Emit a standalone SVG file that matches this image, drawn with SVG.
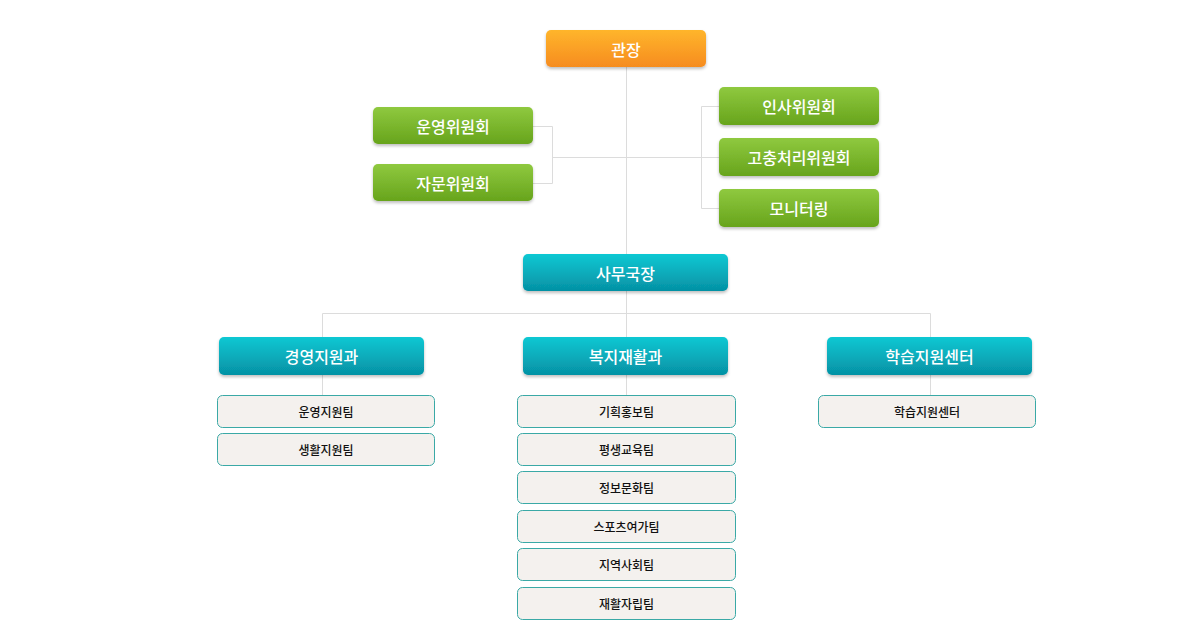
<svg xmlns="http://www.w3.org/2000/svg" width="1200" height="642" viewBox="0 0 1200 642">
<style>
.bx{filter:url(#sh)}
.t{font-family:"Noto Sans CJK KR","Noto Sans",sans-serif;font-size:16px;font-weight:500;fill:#fff;text-anchor:middle;dominant-baseline:central}
.s{font-family:"Noto Sans CJK KR","Noto Sans",sans-serif;font-size:12px;font-weight:500;fill:#111;text-anchor:middle;dominant-baseline:central}
.sub{fill:#f4f1ee;stroke:#3aa9a6;stroke-width:1}
.ln{stroke:#dcdcdc;stroke-width:1;fill:none}
</style>
<defs>
<linearGradient id="go" x1="0" y1="0" x2="0" y2="1"><stop offset="0" stop-color="#ffb52c"/><stop offset="1" stop-color="#f68c1f"/></linearGradient>
<linearGradient id="gg" x1="0" y1="0" x2="0" y2="1"><stop offset="0" stop-color="#8fc93f"/><stop offset="1" stop-color="#67a41c"/></linearGradient>
<linearGradient id="gt" x1="0" y1="0" x2="0" y2="1"><stop offset="0" stop-color="#0ec8d3"/><stop offset="1" stop-color="#0591a4"/></linearGradient>
<filter id="sh" x="-10%" y="-20%" width="120%" height="150%"><feDropShadow dx="0" dy="2" stdDeviation="1.5" flood-color="#000" flood-opacity="0.25"/></filter>
</defs>
<rect width="1200" height="642" fill="#fff"/>
<g id="connectors">
<path class="ln" d="M626.5 67V254M626.5 291V337M626.5 375V395"/>
<path class="ln" d="M533 126.5H552.5V183.5H533M552.5 157.5H626.5"/>
<path class="ln" d="M719 106.5H701.5V208.5H719M701.5 157.5H719M626.5 157.5H701.5"/>
<path class="ln" d="M322.5 337V313.5H930.5V337"/>
<path class="ln" d="M322.5 375V395M930.5 375V395"/>
</g>
<g id="n-director"><rect class="bx" x="546" y="30" width="160" height="37" rx="5" fill="url(#go)"/><text class="t" x="626" y="48.5">관장</text></g>
<g id="n-unyeong"><rect class="bx" x="373" y="107" width="160" height="37" rx="5" fill="url(#gg)"/><text class="t" x="453" y="125.5">운영위원회</text></g>
<g id="n-jamun"><rect class="bx" x="373" y="164" width="160" height="37" rx="5" fill="url(#gg)"/><text class="t" x="453" y="182.5">자문위원회</text></g>
<g id="n-insa"><rect class="bx" x="719" y="87" width="160" height="38" rx="5" fill="url(#gg)"/><text class="t" x="799" y="106">인사위원회</text></g>
<g id="n-gochung"><rect class="bx" x="719" y="138" width="160" height="38" rx="5" fill="url(#gg)"/><text class="t" x="799" y="157">고충처리위원회</text></g>
<g id="n-monitor"><rect class="bx" x="719" y="189" width="160" height="38" rx="5" fill="url(#gg)"/><text class="t" x="799" y="208">모니터링</text></g>
<g id="n-samu"><rect class="bx" x="523" y="254" width="205" height="37" rx="5" fill="url(#gt)"/><text class="t" x="625.5" y="272.5">사무국장</text></g>
<g id="n-gyeongyeong"><rect class="bx" x="219" y="337" width="205" height="38" rx="5" fill="url(#gt)"/><text class="t" x="321.5" y="356">경영지원과</text></g>
<g id="n-bokji"><rect class="bx" x="523" y="337" width="205" height="38" rx="5" fill="url(#gt)"/><text class="t" x="625.5" y="356">복지재활과</text></g>
<g id="n-hakseup"><rect class="bx" x="827" y="337" width="205" height="38" rx="5" fill="url(#gt)"/><text class="t" x="929.5" y="356">학습지원센터</text></g>
<g id="n-t1"><rect class="sub" x="217.5" y="395.5" width="217" height="32" rx="5"/><text class="s" x="326" y="411.5">운영지원팀</text></g>
<g id="n-t2"><rect class="sub" x="217.5" y="433.5" width="217" height="32" rx="5"/><text class="s" x="326" y="449.5">생활지원팀</text></g>
<g id="n-t3"><rect class="sub" x="517.5" y="395.5" width="218" height="32" rx="5"/><text class="s" x="626.5" y="411.5">기획홍보팀</text></g>
<g id="n-t4"><rect class="sub" x="517.5" y="433.5" width="218" height="32" rx="5"/><text class="s" x="626.5" y="449.5">평생교육팀</text></g>
<g id="n-t5"><rect class="sub" x="517.5" y="471.5" width="218" height="32" rx="5"/><text class="s" x="626.5" y="487.5">정보문화팀</text></g>
<g id="n-t6"><rect class="sub" x="517.5" y="510.5" width="218" height="32" rx="5"/><text class="s" x="626.5" y="526.5">스포츠여가팀</text></g>
<g id="n-t7"><rect class="sub" x="517.5" y="548.5" width="218" height="32" rx="5"/><text class="s" x="626.5" y="564.5">지역사회팀</text></g>
<g id="n-t8"><rect class="sub" x="517.5" y="587.5" width="218" height="32" rx="5"/><text class="s" x="626.5" y="603.5">재활자립팀</text></g>
<g id="n-t9"><rect class="sub" x="818.5" y="395.5" width="217" height="32" rx="5"/><text class="s" x="927" y="411.5">학습지원센터</text></g>
</svg>
